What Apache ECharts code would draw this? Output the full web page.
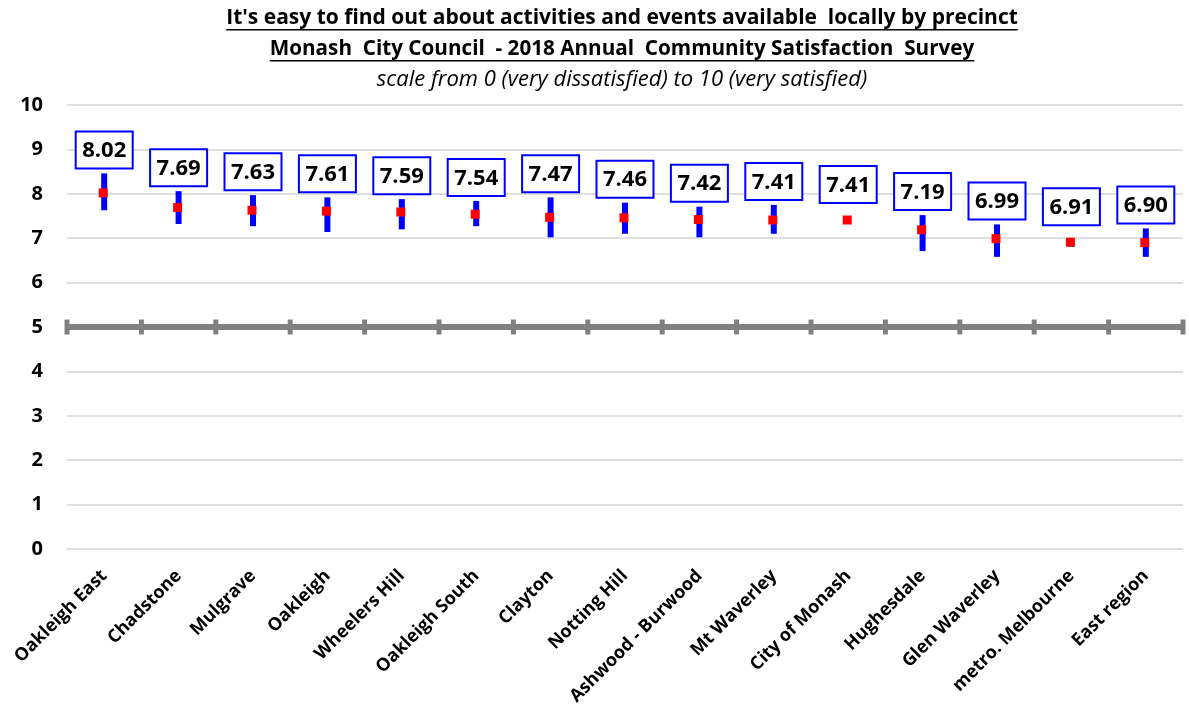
<!DOCTYPE html>
<html>
<head>
<meta charset="utf-8">
<script src="https://cdn.jsdelivr.net/npm/echarts@6/dist/echarts.min.js"></script>
<style>
  html, body { margin: 0; padding: 0; background: #fff; }
  #chart { width: 1189px; height: 716px; }
</style>
</head>
<body>
<div id="chart"></div>
<script>
const titleLine1 = "It's easy to find out about activities and events available  locally by precinct";
const titleLine2 = "Monash  City Council  - 2018 Annual  Community Satisfaction  Survey";
const subtitle = "scale from 0 (very dissatisfied) to 10 (very satisfied)";

const categories = ['Oakleigh East', 'Chadstone', 'Mulgrave', 'Oakleigh', 'Wheelers Hill', 'Oakleigh South',
  'Clayton', 'Notting Hill', 'Ashwood - Burwood', 'Mt Waverley', 'City of Monash', 'Hughesdale',
  'Glen Waverley', 'metro. Melbourne', 'East region'];
const means  = [8.02, 7.69, 7.63, 7.61, 7.59, 7.54, 7.47, 7.46, 7.42, 7.41, 7.41, 7.19, 6.99, 6.91, 6.90];
const ciLow  = [7.63, 7.32, 7.27, 7.14, 7.20, 7.27, 7.02, 7.10, 7.02, 7.10, 7.34, 6.71, 6.58, 6.81, 6.58];
const ciHigh = [8.46, 8.06, 7.97, 7.92, 7.88, 7.84, 7.92, 7.80, 7.71, 7.75, 7.48, 7.52, 7.31, 6.97, 7.22];
const yMin = 0, yMax = 10, yInterval = 1;
const referenceValue = 5;

const FONT = '"Open Sans", "Noto Sans", sans-serif';
const chart = echarts.init(document.getElementById('chart'), null, { renderer: 'canvas' });

const ctx = document.createElement('canvas').getContext('2d');
function textWidth(font, txt) { ctx.font = font; return ctx.measureText(txt).width; }
// pick a font size so the line spans roughly the target width
function fitSize(style, txt, target, maxSize) {
  const w = textWidth(style + ' 20px ' + FONT, txt);
  return Math.min(maxSize, Math.round(20 * target / w * 10) / 10);
}

const centerX = 622;
const s1 = fitSize('bold', titleLine1, 790, 21);
const s2 = fitSize('bold', titleLine2, 705, 21);
const s3 = fitSize('italic', subtitle, 530, 22);
const t1Font = 'bold ' + s1 + 'px ' + FONT;
const t2Font = 'bold ' + s2 + 'px ' + FONT;
const t3Font = 'italic ' + s3 + 'px ' + FONT;
const w1 = textWidth(t1Font, titleLine1);
const w2 = textWidth(t2Font, titleLine2);

const graphics = [
  { type: 'text', x: centerX, y: 18, style: { text: titleLine1, font: t1Font, fill: '#000', align: 'center', verticalAlign: 'middle' } },
  { type: 'rect', shape: { x: centerX - w1 / 2, y: 29, width: w1, height: 1.5 }, style: { fill: '#000' } },
  { type: 'text', x: centerX, y: 49, style: { text: titleLine2, font: t2Font, fill: '#000', align: 'center', verticalAlign: 'middle' } },
  { type: 'rect', shape: { x: centerX - w2 / 2, y: 60, width: w2, height: 1.5 }, style: { fill: '#000' } },
  { type: 'text', x: centerX, y: 80, style: { text: subtitle, font: t3Font, fill: '#000', align: 'center', verticalAlign: 'middle' } }
];

const option = {
  animation: false,
  backgroundColor: '#fff',
  graphic: graphics,
  grid: { left: 67, right: 6, top: 105, bottom: 167, containLabel: false },
  xAxis: {
    type: 'category',
    data: categories,
    boundaryGap: true,
    axisLine: { show: false },
    axisTick: { show: false },
    axisLabel: {
      rotate: 45, interval: 0, margin: 24,
      fontFamily: FONT, fontWeight: 'bold', fontSize: 18, color: '#000'
    },
    splitLine: { show: false }
  },
  yAxis: {
    type: 'value', min: yMin, max: yMax, interval: yInterval,
    axisLine: { show: false },
    axisTick: { show: false },
    axisLabel: { margin: 24, fontFamily: FONT, fontWeight: 'bold', fontSize: 20, color: '#000' },
    splitLine: { show: true, lineStyle: { color: '#d4d4d4', width: 1.5 } }
  },
  series: [
    {
      type: 'custom',
      z: 3,
      data: categories.map((c, i) => [i, referenceValue]),
      encode: { x: 0, y: 1 },
      renderItem: function (params, api) {
        const i = api.value(0);
        const p = api.coord([i, api.value(1)]);
        const bw = api.size([1, 0])[0];
        const left = p[0] - bw / 2, right = p[0] + bw / 2;
        const col = '#808080';
        const children = [
          { type: 'rect', shape: { x: left, y: p[1] - 3, width: bw, height: 6 }, style: { fill: col } },
          { type: 'rect', shape: { x: left - 2.5, y: p[1] - 7.5, width: 5, height: 15 }, style: { fill: col } }
        ];
        if (i === categories.length - 1) {
          children.push({ type: 'rect', shape: { x: right - 2.5, y: p[1] - 7.5, width: 5, height: 15 }, style: { fill: col } });
        }
        return { type: 'group', children: children };
      }
    },
    {
      type: 'custom',
      z: 5,
      data: categories.map((c, i) => [i, means[i], ciLow[i], ciHigh[i]]),
      encode: { x: 0, y: [1, 2, 3] },
      renderItem: function (params, api) {
        const i = api.value(0);
        const pM = api.coord([i, api.value(1)]);
        const pL = api.coord([i, api.value(2)]);
        const pH = api.coord([i, api.value(3)]);
        const cx = pM[0];
        const boxBottom = Math.min(pH[1] - 5, pM[1] - 17);
        const boxW = 57, boxH = 37;
        return {
          type: 'group',
          children: [
            { type: 'rect', shape: { x: cx - 3, y: pH[1], width: 6, height: pL[1] - pH[1] }, style: { fill: '#0000ff' } },
            { type: 'rect', shape: { x: cx - 5.5, y: pM[1] - 4.5, width: 9, height: 9 }, style: { fill: '#ff0000' } },
            { type: 'rect', shape: { x: cx - boxW / 2, y: boxBottom - boxH, width: boxW, height: boxH },
              style: { fill: '#ffffff', stroke: '#0000ff', lineWidth: 2 } },
            { type: 'text', x: cx, y: boxBottom - boxH / 2 + 1,
              style: { text: api.value(1).toFixed(2), align: 'center', verticalAlign: 'middle',
                       font: 'bold 22px ' + FONT, fill: '#000' } }
          ]
        };
      }
    }
  ]
};
chart.setOption(option);
</script>
</body>
</html>
